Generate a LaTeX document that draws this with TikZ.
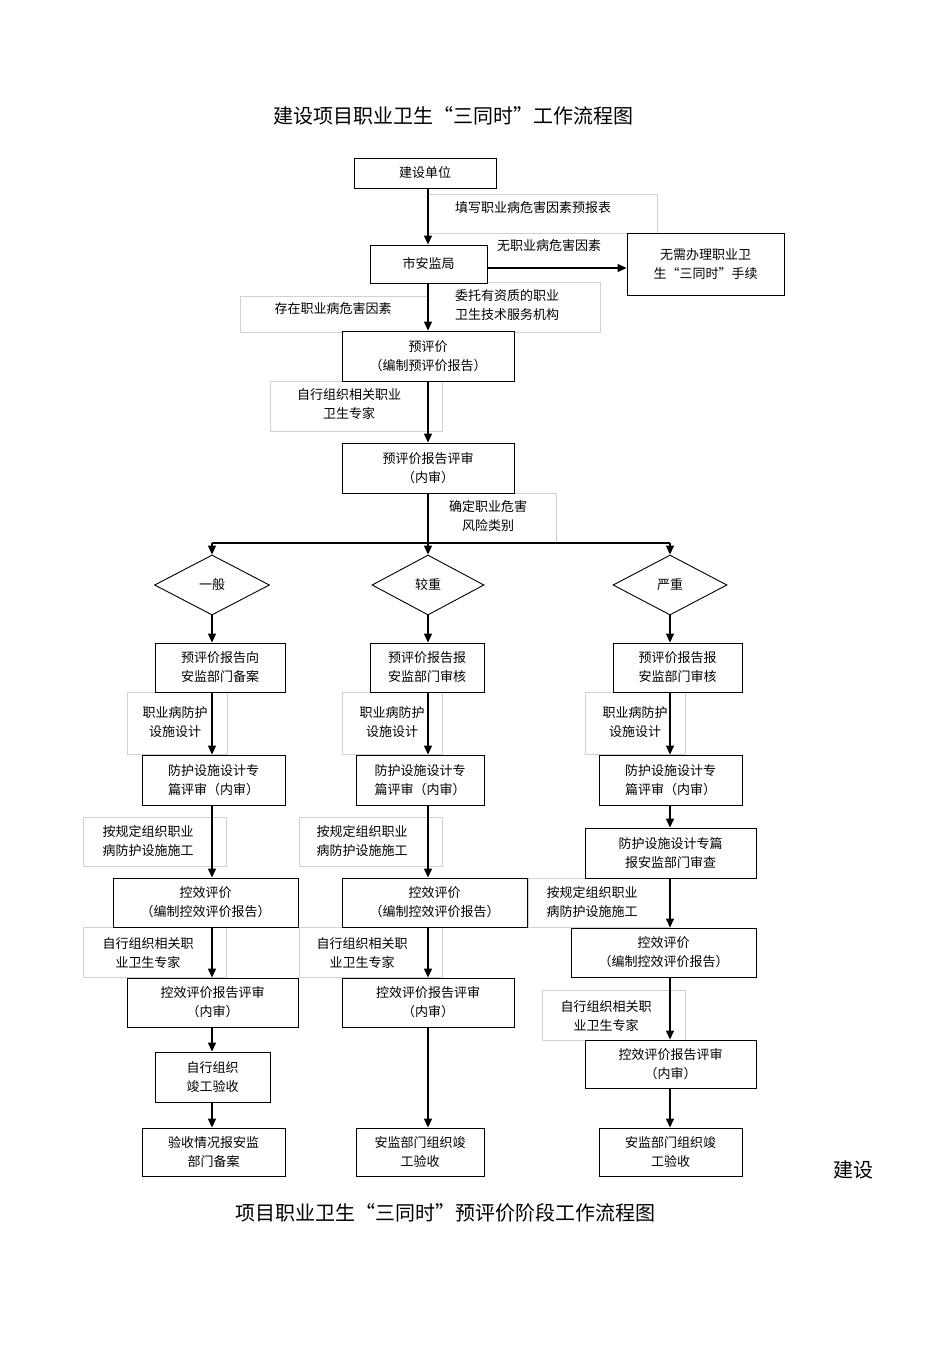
\documentclass[tikz,border=0pt]{standalone}
\usepackage{fontspec}
\setmainfont{Noto Sans CJK SC}
\usetikzlibrary{arrows.meta,shapes.geometric}
\tikzset{
  box/.style={draw,line width=0.9pt,fill=white,inner sep=1pt,align=center,font=\fontsize{13}{19}\selectfont},
  lbl/.style={draw=black!18,line width=0.6pt,fill=white,inner sep=1pt,align=center,font=\fontsize{13}{19}\selectfont},
  txt/.style={inner sep=0pt,align=center,font=\fontsize{13}{19}\selectfont},
  dia/.style={draw,line width=0.9pt,diamond,aspect=1.9,inner sep=0pt,font=\fontsize{13}{16}\selectfont},
  arr/.style={line width=1.3pt,-{Triangle[length=9pt,width=8pt]}},
  ln/.style={line width=1.3pt}
}
\newcommand{\bx}[6]{\node[box,minimum width=#4-#2,minimum height=#5-#3] (#1) at ({(#2+#4)/2},{(#3+#5)/2}) {#6};}
\newcommand{\lb}[6]{\node[lbl,minimum width=#4-#2,minimum height=#5-#3] (#1) at ({(#2+#4)/2},{(#3+#5)/2}) {};}
\begin{document}
\begin{tikzpicture}[x=1pt,y=-1pt]
\useasboundingbox (0,0) rectangle (950,1345);
\node[txt,font=\fontsize{20}{24}\selectfont] (title) at (453,116) {建设项目职业卫生“三同时”工作流程图};
% label boxes
\lb{l1}{428}{194}{657}{233}{}
\lb{l2}{240}{296}{428}{332}{}
\lb{l3}{428}{282}{600}{332}{}
\lb{l4}{270}{381}{442}{431}{}
\lb{l5}{428}{493}{556}{543}{}
\lb{l6}{127}{692}{227}{754}{}
\lb{l7}{342}{692}{442}{754}{}
\lb{l8}{585}{692}{685}{754}{}
\lb{l9}{83}{817}{226}{866}{}
\lb{l10}{299}{817}{442}{866}{}
\lb{l11}{528}{878}{670}{927}{}
\lb{l12}{83}{927}{226}{977}{}
\lb{l13}{299}{927}{442}{977}{}
\lb{l14}{542}{990}{685}{1040}{}
\node[txt] (t1) at (533,208) {填写职业病危害因素预报表};
\node[txt] (t2) at (549,246) {无职业病危害因素};
\node[txt] (t3) at (333,309) {存在职业病危害因素};
\node[txt] (t4) at (507,305) {委托有资质的职业\\卫生技术服务机构};
\node[txt] (t5) at (349,404) {自行组织相关职业\\卫生专家};
\node[txt] (t6) at (488,516) {确定职业危害\\风险类别};
\node[txt] (t7) at (175,722) {职业病防护\\设施设计};
\node[txt] (t8) at (392,722) {职业病防护\\设施设计};
\node[txt] (t9) at (635,722) {职业病防护\\设施设计};
\node[txt] (t10) at (148,841) {按规定组织职业\\病防护设施施工};
\node[txt] (t11) at (362,841) {按规定组织职业\\病防护设施施工};
\node[txt] (t12) at (592,902) {按规定组织职业\\病防护设施施工};
\node[txt] (t13) at (148,953) {自行组织相关职\\业卫生专家};
\node[txt] (t14) at (362,953) {自行组织相关职\\业卫生专家};
\node[txt] (t15) at (606,1016) {自行组织相关职\\业卫生专家};
% main boxes
\bx{a}{354}{158}{496}{188}{建设单位}
\bx{b}{370}{245}{487}{283}{市安监局}
\bx{c}{627}{233}{784}{295}{无需办理职业卫\\生“三同时”手续}
\bx{d}{342}{331}{514}{381}{预评价\\（编制预评价报告）}
\bx{e}{342}{443}{514}{493}{预评价报告评审\\（内审）}
\node[dia,minimum width=115,minimum height=60] (g1) at (212,585) {一般};
\node[dia,minimum width=112,minimum height=60] (g2) at (428,585) {较重};
\node[dia,minimum width=114,minimum height=60] (g3) at (670,585) {严重};
\bx{p1}{155}{643}{285}{692}{预评价报告向\\安监部门备案}
\bx{p2}{142}{755}{285}{805}{防护设施设计专\\篇评审（内审）}
\bx{p3}{113}{878}{298}{927}{控效评价\\（编制控效评价报告）}
\bx{p4}{127}{978}{298}{1027}{控效评价报告评审\\（内审）}
\bx{p5}{155}{1052}{270}{1102}{自行组织\\竣工验收}
\bx{p6}{142}{1128}{285}{1176}{验收情况报安监\\部门备案}
\bx{q1}{370}{643}{484}{692}{预评价报告报\\安监部门审核}
\bx{q2}{356}{755}{484}{805}{防护设施设计专\\篇评审（内审）}
\bx{q3}{342}{878}{527}{927}{控效评价\\（编制控效评价报告）}
\bx{q4}{342}{978}{514}{1027}{控效评价报告评审\\（内审）}
\bx{q5}{356}{1128}{484}{1176}{安监部门组织竣\\工验收}
\bx{r1}{613}{643}{742}{692}{预评价报告报\\安监部门审核}
\bx{r2}{599}{755}{742}{805}{防护设施设计专\\篇评审（内审）}
\bx{r3}{585}{828}{756}{878}{防护设施设计专篇\\报安监部门审查}
\bx{r4}{571}{928}{756}{977}{控效评价\\（编制控效评价报告）}
\bx{r5}{585}{1040}{756}{1088}{控效评价报告评审\\（内审）}
\bx{r6}{599}{1128}{742}{1176}{安监部门组织竣\\工验收}
% connectors
\draw[arr] (a.south -| 428,0) -- (b.north -| 428,0);
\draw[arr] (b.east |- 0,268) -- (c.west |- 0,268);
\draw[arr] (b.south -| 428,0) -- (d.north -| 428,0);
\draw[arr] (d.south -| 428,0) -- (e.north -| 428,0);
\coordinate (s) at (428,543);
\coordinate (s1) at (212,543);
\coordinate (s3) at (670,543);
\draw[ln] (e.south -| 428,0) -- (s);
\draw[ln] (s1) -- (s3);
\draw[arr] (s1) -- (g1.north);
\draw[arr] (s) -- (g2.north);
\draw[arr] (s3) -- (g3.north);
\draw[arr] (g1.south) -- (p1.north -| g1.south);
\draw[arr] (g2.south) -- (q1.north -| g2.south);
\draw[arr] (g3.south) -- (r1.north -| g3.south);
\foreach \u/\v in {p1/p2,p2/p3,p3/p4,p4/p5,p5/p6}{\draw[arr] (\u.south -| 212,0) -- (\v.north -| 212,0);}
\foreach \u/\v in {q1/q2,q2/q3,q3/q4,q4/q5}{\draw[arr] (\u.south -| 428,0) -- (\v.north -| 428,0);}
\foreach \u/\v in {r1/r2,r2/r3,r3/r4,r4/r5,r5/r6}{\draw[arr] (\u.south -| 670,0) -- (\v.north -| 670,0);}
\node[txt,font=\fontsize{20}{24}\selectfont] (t16) at (853,1170) {建设};
\node[txt,font=\fontsize{20}{24}\selectfont] (t17) at (445,1213) {项目职业卫生“三同时”预评价阶段工作流程图};
\end{tikzpicture}
\end{document}
